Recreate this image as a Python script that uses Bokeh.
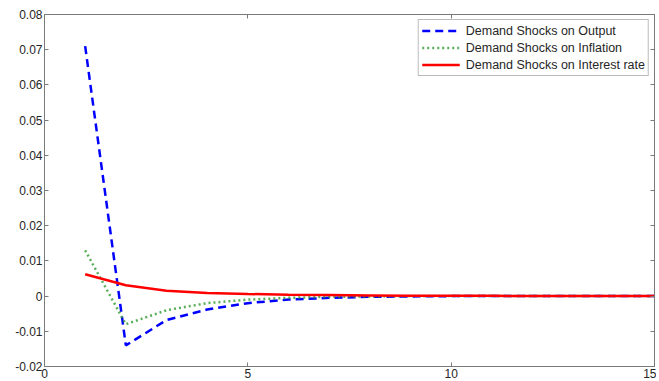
from bokeh.plotting import figure
from bokeh.models import LinearAxis, FixedTicker, Range1d, Legend, LegendItem
from bokeh.embed import file_html
from bokeh.resources import INLINE

periods = list(range(1, 16))
output_resp = [0.071, -0.014, -0.0068, -0.0038, -0.002, -0.001, -0.0005, -0.0002,
               -0.0001, 0.0, 0.0, 0.0, 0.0, 0.0, 0.0]
inflation_resp = [0.013, -0.008, -0.004, -0.002, -0.001, -0.0005, -0.0002, -0.0001,
                  0.0, 0.0, 0.0, 0.0, 0.0, 0.0, 0.0]
interest_resp = [0.0062, 0.0031, 0.0015, 0.0009, 0.0006, 0.0004, 0.0003, 0.0002,
                 0.0001, 0.0001, 0.0001, 0.0, 0.0, 0.0, 0.0]

series_names = ["Demand Shocks on Output", "Demand Shocks on Inflation",
                "Demand Shocks on Interest rate"]

x_ticks = [0, 5, 10, 15]
x_tick_labels = ["0", "5", "10", "15"]
y_ticks = [-0.02, -0.01, 0.0, 0.01, 0.02, 0.03, 0.04, 0.05, 0.06, 0.07, 0.08]
y_tick_labels = ["-0.02", "-0.01", "0", "0.01", "0.02", "0.03", "0.04", "0.05",
                 "0.06", "0.07", "0.08"]

FONT = "Liberation Sans"
AX = "#7a7a7a"
TXT = "#262626"

p = figure(width=656, height=380, output_backend="svg", toolbar_location=None,
           x_range=Range1d(0, 15), y_range=Range1d(-0.02, 0.08),
           min_border_left=44, min_border_right=2, min_border_top=14,
           min_border_bottom=12, x_axis_location=None, y_axis_location=None)
p.xgrid.visible = False
p.ygrid.visible = False
p.outline_line_color = AX
p.outline_line_width = 1
p.background_fill_color = "white"
p.border_fill_color = "white"


def style(ax, labels, ticks):
    ax.ticker = FixedTicker(ticks=ticks)
    ax.axis_line_color = AX
    ax.major_tick_line_color = AX
    ax.major_tick_in = 4
    ax.major_tick_out = 0
    ax.minor_tick_line_color = None
    ax.major_label_text_font = FONT
    ax.major_label_text_font_size = "12px"
    ax.major_label_text_color = TXT
    ax.major_label_standoff = 2
    if labels is not None:
        ax.major_label_overrides = {t: l for t, l in zip(ticks, labels)}
    else:
        ax.major_label_text_color = None
        ax.major_label_text_font_size = "1px"
        ax.major_label_standoff = 0


bottom = LinearAxis()
style(bottom, x_tick_labels, x_ticks)
p.add_layout(bottom, "below")
top = LinearAxis()
style(top, None, x_ticks)
p.add_layout(top, "above")
left = LinearAxis()
style(left, y_tick_labels, y_ticks)
p.add_layout(left, "left")
right = LinearAxis()
style(right, None, y_ticks)
p.add_layout(right, "right")

r1 = p.line(periods, output_resp, line_color="#0000ff", line_width=2.5, line_dash="8 5")
r2 = p.line(periods, inflation_resp, line_color="#2e9a2e", line_width=2.5, line_dash="2 3",
            line_alpha=0.8)
r3 = p.line(periods, interest_resp, line_color="#ff0000", line_width=2.5)

legend = Legend(items=[LegendItem(label=series_names[0], renderers=[r1]),
                       LegendItem(label=series_names[1], renderers=[r2]),
                       LegendItem(label=series_names[2], renderers=[r3])],
                location="top_right")
legend.label_text_font = FONT
legend.label_text_font_size = "12.5px"
legend.label_text_color = TXT
legend.border_line_color = AX
legend.border_line_width = 1
legend.margin = 5
legend.padding = 3
legend.spacing = 2
legend.glyph_width = 38
legend.glyph_height = 15
legend.label_height = 15
legend.label_standoff = 6
legend.background_fill_alpha = 1
p.add_layout(legend, "center")

open("out.html", "w").write(file_html(p, INLINE))
